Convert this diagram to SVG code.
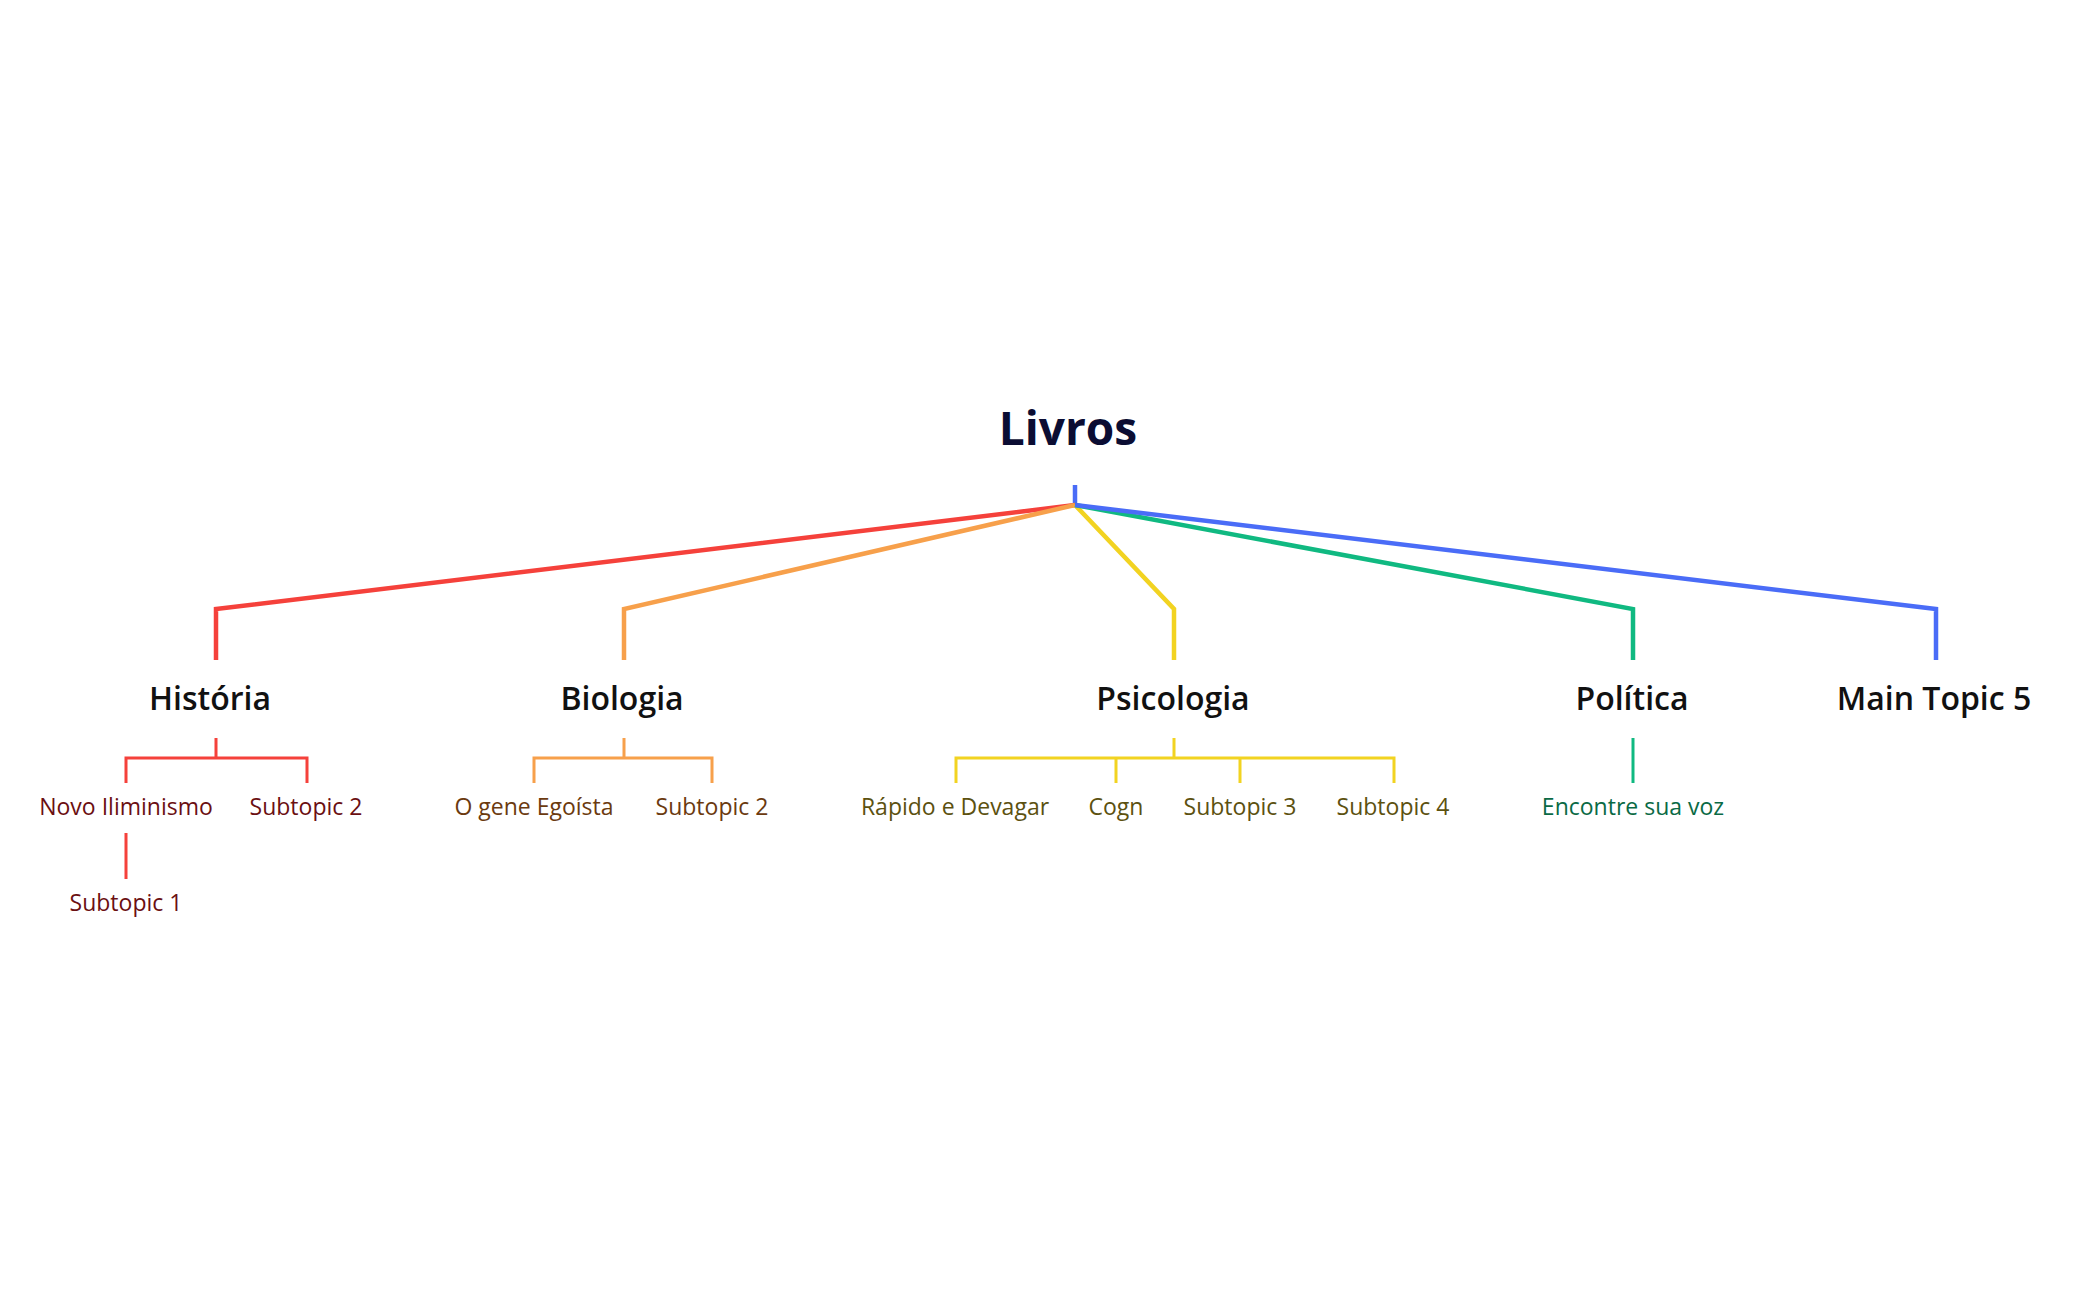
<svg xmlns="http://www.w3.org/2000/svg" width="2099" height="1300" viewBox="0 0 2099 1300">
<style>
text{font-family:"Open Sans","Liberation Sans",sans-serif;text-anchor:middle}
.root{font-size:46px;font-weight:700;fill:#0B0D33}
.main{font-size:32px;font-weight:600;fill:#111}
.sub{font-size:23px}
.c{fill:none;stroke-linejoin:miter}
.m{stroke-width:4.5}
.s{stroke-width:3}
</style>
<rect width="2099" height="1300" fill="#fff"/>
<g id="connectors" class="c">
<path class="m" stroke="#4A6CF7" d="M1075 485V505"/>
<path class="m" stroke="#F5413B" d="M1075 505L216 609V660"/>
<path class="m" stroke="#F7A04B" d="M1075 505L624 609V660"/>
<path class="m" stroke="#F2D321" d="M1075 505L1174 609V660"/>
<path class="m" stroke="#10B981" d="M1075 505L1633 609V660"/>
<path class="m" stroke="#4A6CF7" d="M1075 505L1936 609V660"/>
<path class="s" stroke="#F5413B" d="M216 738V758M126 783V758H307V783M126 833V879"/>
<path class="s" stroke="#F7A04B" d="M624 738V758M534 783V758H712V783"/>
<path class="s" stroke="#F2D321" d="M1174 738V758M956 783V758H1394V783M1116 758V783M1240 758V783"/>
<path class="s" stroke="#10B981" d="M1633 738V783"/>
</g>
<g id="root"><text class="root" x="1068" y="445">Livros</text></g>
<g id="historia"><text class="main" x="210" y="710">História</text></g>
<g id="biologia"><text class="main" x="622" y="710">Biologia</text></g>
<g id="psicologia"><text class="main" x="1173" y="710">Psicologia</text></g>
<g id="politica"><text class="main" x="1632" y="710">Política</text></g>
<g id="main5"><text class="main" x="1934" y="710">Main Topic 5</text></g>
<g id="h1"><text class="sub" fill="#6B0F12" x="126" y="815">Novo Iliminismo</text></g>
<g id="h2"><text class="sub" fill="#6B0F12" x="306" y="815">Subtopic 2</text></g>
<g id="h11"><text class="sub" fill="#6B0F12" x="126" y="911">Subtopic 1</text></g>
<g id="b1"><text class="sub" fill="#6B3A0F" x="534" y="815">O gene Egoísta</text></g>
<g id="b2"><text class="sub" fill="#6B3A0F" x="712" y="815">Subtopic 2</text></g>
<g id="p1"><text class="sub" fill="#5C5110" x="955" y="815">Rápido e Devagar</text></g>
<g id="p2"><text class="sub" fill="#5C5110" x="1116" y="815">Cogn</text></g>
<g id="p3"><text class="sub" fill="#5C5110" x="1240" y="815">Subtopic 3</text></g>
<g id="p4"><text class="sub" fill="#5C5110" x="1393" y="815">Subtopic 4</text></g>
<g id="po1"><text class="sub" fill="#0A6A45" x="1633" y="815">Encontre sua voz</text></g>
</svg>
